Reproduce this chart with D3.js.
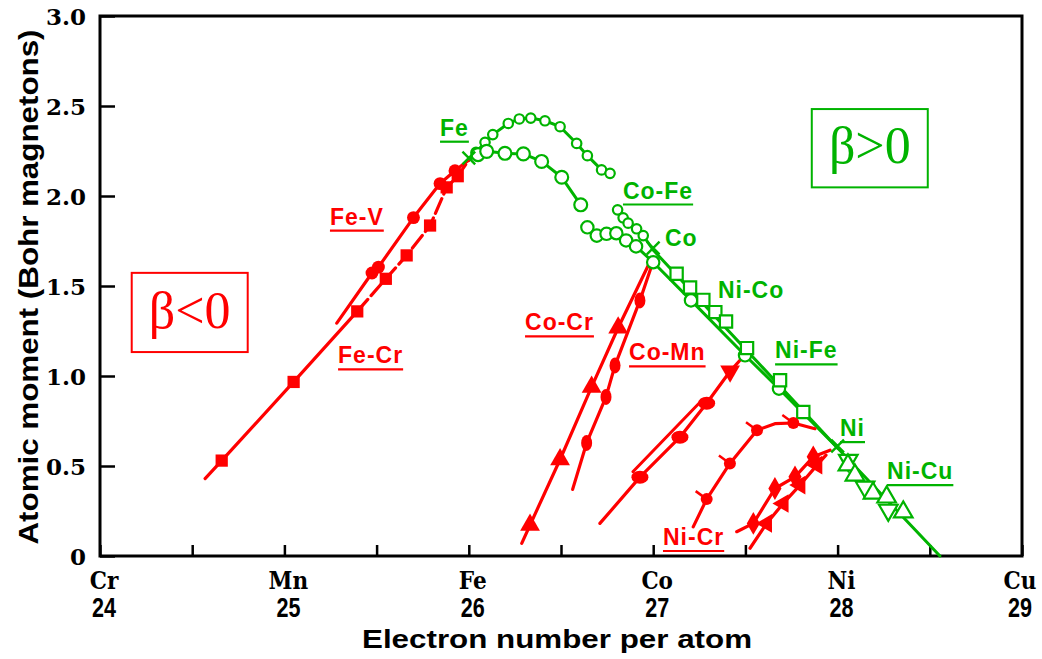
<!DOCTYPE html>
<html><head><meta charset="utf-8">
<script src="https://cdn.jsdelivr.net/npm/d3@7"></script>
<style>body{margin:0;background:#fff}svg{display:block}</style>
</head><body><svg id="c" width="1042" height="659"></svg>
<script>
// ---------- data ----------
const xTickValues = [24, 25, 26, 27, 28, 29];
const xMinorTicks = [24.5, 25.5, 26.5, 27.5, 28.5];
const xTickElements = ["Cr", "Mn", "Fe", "Co", "Ni", "Cu"];
const yTickValues = [0, 0.5, 1, 1.5, 2, 2.5, 3];
const yTickLabels = ["0", "0.5", "1.0", "1.5", "2.0", "2.5", "3.0"];

// red (beta < 0) alloys
const feCrLine = [[24.57,0.43],[24.66,0.53],[25.05,0.967],[25.395,1.359]];
const feCrDashed = [[25.395,1.359],[25.55,1.54],[25.663,1.67],[25.79,1.836],[25.88,2.048],[25.94,2.11],[26.0,2.2]];
const feCrPts = [[24.66,0.53],[25.05,0.967],[25.395,1.359],[25.55,1.54],[25.663,1.67],[25.79,1.836],[25.88,2.048],[25.94,2.11]];
const feVLine = [[25.284,1.294],[25.475,1.572],[25.51,1.605],[25.70,1.88],[25.844,2.069],[25.925,2.14],[26.0,2.2]];
const feVPts = [[25.475,1.572],[25.51,1.605],[25.70,1.88],[25.844,2.069],[25.925,2.14]];
const coCrLine = [[26.287,0.07],[26.332,0.172],[26.495,0.536],[26.666,0.939],[26.81,1.268],[26.973,1.614]];
const coCrPts = [[26.332,0.172],[26.495,0.536],[26.666,0.939],[26.81,1.268]];
const coMnLine = [[26.563,0.37],[26.639,0.628],[26.744,0.884],[26.793,1.059],[26.928,1.42],[26.992,1.614]];
const coMnPts = [[26.639,0.628],[26.744,0.884],[26.793,1.059],[26.928,1.42]];
const niMnLine = [[26.711,0.181],[26.928,0.438],[27.145,0.66],[27.29,0.849],[27.417,1.026],[27.49,1.11]];
const niMnLine2 = [[26.89,0.468],[27.25,0.85]];
const niMnPts = [[26.928,0.438],[27.145,0.66],[27.29,0.849]];
const niMnTri = [[27.417,1.026]];
const niVLine = [[27.217,0.162],[27.29,0.316],[27.416,0.514],[27.563,0.699],[27.66,0.735],[27.76,0.739],[27.877,0.707]];
const niVPts = [[27.29,0.316],[27.416,0.514],[27.563,0.699],[27.76,0.739]];
const niCr1Line = [[27.453,0.135],[27.543,0.181],[27.66,0.375],[27.769,0.44],[27.868,0.551],[27.959,0.588]];
const niCr1Pts = [[27.543,0.181],[27.66,0.375],[27.769,0.44],[27.868,0.551]];
const niCr2Line = [[27.525,0.043],[27.615,0.181],[27.705,0.292],[27.796,0.394],[27.888,0.505],[27.937,0.56]];
const niCr2Pts = [[27.615,0.181],[27.705,0.292],[27.796,0.394],[27.888,0.505]];

// green (beta > 0) alloys
const feCoLine = [[26.0,2.2],[26.039,2.242],[26.088,2.298],[26.13,2.341],[26.214,2.403],[26.274,2.428],[26.336,2.433],[26.413,2.418],[26.495,2.385],[26.585,2.292],[26.643,2.224],[26.72,2.145],[26.766,2.126]];
const feCoPts = feCoLine.slice(1);
const feNiBccLine = [[26.0,2.2],[26.05,2.23],[26.097,2.248],[26.196,2.237],[26.296,2.234],[26.395,2.192],[26.504,2.104],[26.607,1.951]];
const feNiBccPts = [[26.05,2.23],[26.097,2.248],[26.196,2.237],[26.296,2.234],[26.395,2.192],[26.504,2.104],[26.607,1.951]];
const feNiFccLine = [[26.643,1.826],[26.694,1.78],[26.747,1.79],[26.80,1.793],[26.853,1.753],[26.907,1.72],[27.0,1.632],[27.205,1.42],[27.498,1.115],[27.682,0.93],[28.0,0.6]];
const feNiFccPts = [[26.643,1.826],[26.694,1.78],[26.747,1.79],[26.80,1.793],[26.853,1.753],[26.907,1.72],[27.0,1.632],[27.205,1.42],[27.498,1.115],[27.682,0.93]];
const coFeLine = [[26.807,1.923],[26.837,1.879],[26.864,1.849],[26.91,1.818],[26.946,1.78],[27.0,1.70]];
const coFePts = coFeLine.slice(0, 5);
const niCoLine = [[27.0,1.70],[28.0,0.6]];
const niCoPts = [[27.127,1.568],[27.20,1.492],[27.272,1.423],[27.337,1.355],[27.395,1.303],[27.509,1.155],[27.688,0.976],[27.814,0.80]];
const niCuLine = [[28.0,0.6],[28.555,0]];
const niCuDown = [[28.058,0.532],[28.149,0.383],[28.275,0.255]];
const niCuUp = [[28.056,0.505],[28.094,0.449],[28.192,0.349],[28.266,0.327],[28.356,0.244]];
const pureElements = [[26.0,2.2],[27.0,1.70],[28.0,0.6]];

// annotations: [text, x, y, underline]
const redLabels = [["Fe-V",25.247,1.841,true],["Fe-Cr",25.291,1.070,true],["Co-Cr",26.305,1.253,true],["Co-Mn",26.869,1.087,true],["Ni-Cr",27.053,0.061,true]];
const greenLabels = [["Fe",25.844,2.335,true],["Co-Fe",26.836,1.986,true],["Co",27.064,1.725,false],["Ni-Co",27.351,1.431,false],["Ni-Fe",27.661,1.098,true],["Ni",28.013,0.666,true],["Ni-Cu",28.268,0.427,true]];
const betaBoxes = [["β<0",24.172,24.801,1.573,1.133,"red"],["β>0",27.86,28.489,2.483,2.048,"green"]];

// ---------- drawing ----------
const RED = "#ff0000", GREEN = "#00b300";
const svg = d3.select("#c");
const L = 100, R = 1022, T = 16, B = 556;
const x = d3.scaleLinear().domain([24, 29]).range([L, R]);
const y = d3.scaleLinear().domain([0, 3]).range([B, T]);
const line = d3.line().x(d => x(d[0])).y(d => y(d[1]));

// frame
svg.append("rect").attr("x", L).attr("y", T).attr("width", R - L).attr("height", B - T)
  .attr("fill", "none").attr("stroke", "#000").attr("stroke-width", 3);

// left axis
const yAxis = d3.axisLeft(y).tickValues(yTickValues).tickSizeInner(-15).tickSizeOuter(0).tickPadding(14)
  .tickFormat((d, i) => yTickLabels[i]);
const ga = svg.append("g").attr("transform", `translate(${L},0)`).call(yAxis);
ga.select(".domain").remove();
ga.selectAll("line").attr("stroke-width", 2.5);
ga.selectAll("text").attr("font-family", "DejaVu Serif").attr("font-weight", "bold").attr("font-size", 23)
  .attr("fill", "#000").attr("dy", "0.36em");

// bottom axis
const xAxis = d3.axisBottom(x).tickValues(xTickValues.concat(xMinorTicks)).tickSizeInner(-11).tickSizeOuter(0).tickFormat("");
const gb = svg.append("g").attr("transform", `translate(0,${B})`).call(xAxis);
gb.select(".domain").remove();
gb.selectAll("line").attr("stroke-width", 2.5);

const labX = (d, i) => x(d) + (i === xTickValues.length - 1 ? -2 : 4);
svg.selectAll(".xel").data(xTickValues).join("text")
  .attr("x", labX).attr("y", 589).attr("text-anchor", "middle")
  .attr("font-family", "DejaVu Serif").attr("font-weight", "bold").attr("font-size", 24)
  .attr("transform", (d, i) => `translate(${labX(d, i)},0) scale(0.9,1) translate(${-labX(d, i)},0)`)
  .text((d, i) => xTickElements[i]);
svg.selectAll(".xnum").data(xTickValues).join("text")
  .attr("x", labX).attr("y", 617).attr("text-anchor", "middle")
  .attr("font-family", "Liberation Sans").attr("font-weight", "bold").attr("font-size", 27)
  .attr("transform", (d, i) => `translate(${labX(d, i)},0) scale(0.8,1) translate(${-labX(d, i)},0)`)
  .text(d => d);

// axis titles
svg.append("text").attr("x", 557).attr("y", 648).attr("text-anchor", "middle")
  .attr("font-family", "Liberation Sans").attr("font-weight", "bold").attr("font-size", 26)
  .attr("textLength", 390).attr("lengthAdjust", "spacingAndGlyphs")
  .text("Electron number per atom");
svg.append("text").attr("transform", "translate(38,287) rotate(-90)").attr("text-anchor", "middle")
  .attr("font-family", "Liberation Sans").attr("font-weight", "bold").attr("font-size", 27)
  .attr("textLength", 515).attr("lengthAdjust", "spacingAndGlyphs")
  .text("Atomic moment (Bohr magnetons)");

// lines
function path(data, color, w, dash) {
  const p = svg.append("path").datum(data).attr("d", line).attr("fill", "none")
    .attr("stroke", color).attr("stroke-width", w).attr("stroke-linecap", "round").attr("stroke-linejoin", "round");
  if (dash) p.attr("stroke-dasharray", dash);
  return p;
}
[feCoLine, feNiBccLine, feNiFccLine, coFeLine, niCoLine, niCuLine].forEach(d => path(d, GREEN, 3));
path(feCrLine, RED, 3.2);
path(feCrDashed, RED, 3.2, "16,5");
[feVLine, coCrLine, coMnLine, niMnLine, niVLine, niCr1Line, niCr2Line].forEach(d => path(d, RED, 3.2));
path(niMnLine2, RED, 3);

// markers
function sym(data, type, size, fill, stroke, sw, rot) {
  svg.append("g").selectAll("path").data(data).join("path")
    .attr("transform", d => `translate(${x(d[0])},${y(d[1])})` + (rot ? ` rotate(${rot})` : ""))
    .attr("d", d3.symbol().type(type).size(size))
    .attr("fill", fill).attr("stroke", stroke).attr("stroke-width", sw);
}
// green open markers
sym(feCoPts, d3.symbolCircle, 70, "#fff", GREEN, 2.2);
sym(feNiBccPts, d3.symbolCircle, 130, "#fff", GREEN, 2.2);
sym(feNiFccPts, d3.symbolCircle, 120, "#fff", GREEN, 2.2);
sym(coFePts, d3.symbolCircle, 70, "#fff", GREEN, 2.2);
sym(niCoPts, d3.symbolSquare, 150, "#fff", GREEN, 2.2);
sym(niCuDown, d3.symbolTriangle, 150, "#fff", GREEN, 2.2, 180);
sym(niCuUp, d3.symbolTriangle, 150, "#fff", GREEN, 2.2);
svg.append("g").selectAll("path").data(pureElements).join("path")
  .attr("transform", d => `translate(${x(d[0])},${y(d[1]) - 2}) rotate(45)`)
  .attr("d", "M-9,0H9M0,-9V9").attr("stroke", GREEN).attr("stroke-width", 2.4);

// red filled markers
sym(feCrPts, d3.symbolSquare, 150, RED, RED, 0);
sym(feVPts, d3.symbolCircle, 130, RED, RED, 0);
sym(coCrPts, d3.symbolTriangle, 170, RED, RED, 0);
svg.append("g").selectAll("ellipse").data(coMnPts).join("ellipse")
  .attr("cx", d => x(d[0])).attr("cy", d => y(d[1])).attr("rx", 5.5).attr("ry", 8).attr("fill", RED);
svg.append("g").selectAll("ellipse").data(niMnPts).join("ellipse")
  .attr("cx", d => x(d[0])).attr("cy", d => y(d[1])).attr("rx", 8.5).attr("ry", 6.5).attr("fill", RED);
sym(niMnTri, d3.symbolTriangle, 170, RED, RED, 0, 180);
svg.append("g").selectAll("g").data(niVPts).join("g")
  .attr("transform", d => `translate(${x(d[0])},${y(d[1])})`)
  .call(g => {
    g.append("circle").attr("r", 6).attr("fill", RED);
    g.append("path").attr("d", "M0,0L-11,-8").attr("stroke", RED).attr("stroke-width", 2.5);
  });
sym(niCr1Pts, d3.symbolDiamond, 150, RED, RED, 0);
sym(niCr2Pts, d3.symbolTriangle, 150, RED, RED, 0, 30);

// labels
function labels(data, color) {
  data.forEach(([t, lx, ly, ul]) => {
    const tx = svg.append("text").attr("x", x(lx)).attr("y", y(ly))
      .attr("font-family", "Liberation Sans").attr("font-size", 23).attr("font-weight", "bold")
      .attr("letter-spacing", 1).attr("fill", color).text(t);
    if (ul) {
      const w = tx.node().getComputedTextLength();
      svg.append("line").attr("x1", x(lx)).attr("x2", x(lx) + w).attr("y1", y(ly) + 6).attr("y2", y(ly) + 6)
        .attr("stroke", color).attr("stroke-width", 2.2);
    }
  });
}
labels(redLabels, RED);
labels(greenLabels, GREEN);

// beta boxes
betaBoxes.forEach(([t, x0, x1, y0, y1, c]) => {
  const col = c === "red" ? RED : GREEN;
  svg.append("rect").attr("x", x(x0)).attr("y", y(y0)).attr("width", x(x1) - x(x0)).attr("height", y(y1) - y(y0))
    .attr("fill", "none").attr("stroke", col).attr("stroke-width", 2);
  svg.append("text").attr("x", (x(x0) + x(x1)) / 2).attr("y", y(y1) - 24).attr("text-anchor", "middle")
    .attr("font-family", "Liberation Serif").attr("font-size", 52).attr("fill", col).text(t);
});
</script></body></html>
